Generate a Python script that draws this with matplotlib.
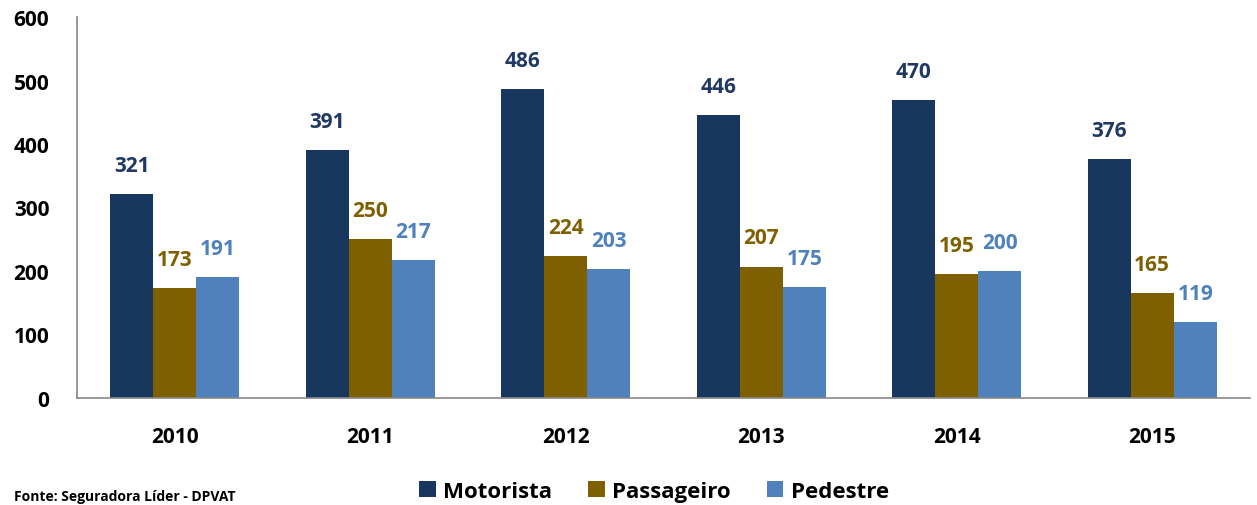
import matplotlib
matplotlib.use("Agg")
import matplotlib.pyplot as plt
import numpy as np

plt.rcParams['font.family'] = ['Open Sans', 'DejaVu Sans']

years = ['2010', '2011', '2012', '2013', '2014', '2015']
series = ['Motorista', 'Passageiro', 'Pedestre']
motorista = [321, 391, 486, 446, 470, 376]
passageiro = [173, 250, 224, 207, 195, 165]
pedestre = [191, 217, 203, 175, 200, 119]
yticks = [0, 100, 200, 300, 400, 500, 600]

colors = ['#17375E', '#7F6000', '#4F81BD']
label_colors = ['#1F3864', '#7F6000', '#4F81BD']

fig = plt.figure(figsize=(12.57, 5.06), dpi=100)
ax = fig.add_axes([0.0613, 0.2115, 0.9331, 0.7529])

x = np.arange(len(years))
w = 0.22
for i, (vals, c, lc) in enumerate(zip([motorista, passageiro, pedestre], colors, label_colors)):
    bars = ax.bar(x + (i - 1) * w, vals, w, color=c, label=series[i])
    for b, v in zip(bars, vals):
        ax.annotate(str(v), (b.get_x() + b.get_width() / 2, v),
                    xytext=(0, 13), textcoords='offset points',
                    ha='center', va='bottom', fontsize=15, fontweight='bold', color=lc)

ax.set_xlim(-0.5, len(years) - 0.5)
ax.set_ylim(0, 600)
ax.set_yticks(yticks)
ax.set_xticks(x)
ax.set_xticklabels(years)
ax.tick_params(axis='both', length=0, labelsize=15)
ax.tick_params(axis='y', pad=20)
ax.tick_params(axis='x', pad=20)
for lab in ax.get_xticklabels() + ax.get_yticklabels():
    lab.set_fontweight('bold')

for s in ['top', 'right']:
    ax.spines[s].set_visible(False)
for s in ['left', 'bottom']:
    ax.spines[s].set_color('#888888')
    ax.spines[s].set_linewidth(1.2)

ax.legend(loc='upper center', bbox_to_anchor=(0.492, -0.165), ncol=3, frameon=False,
          prop={'size': 16, 'weight': 'bold'}, handlelength=0.75, handleheight=0.75,
          handletextpad=0.35, columnspacing=1.6)

fig.text(0.011, 0.004, 'Fonte: Seguradora Líder - DPVAT', fontsize=10, fontweight='bold',
         va='bottom', ha='left')

fig.savefig('out.png', dpi=100)
